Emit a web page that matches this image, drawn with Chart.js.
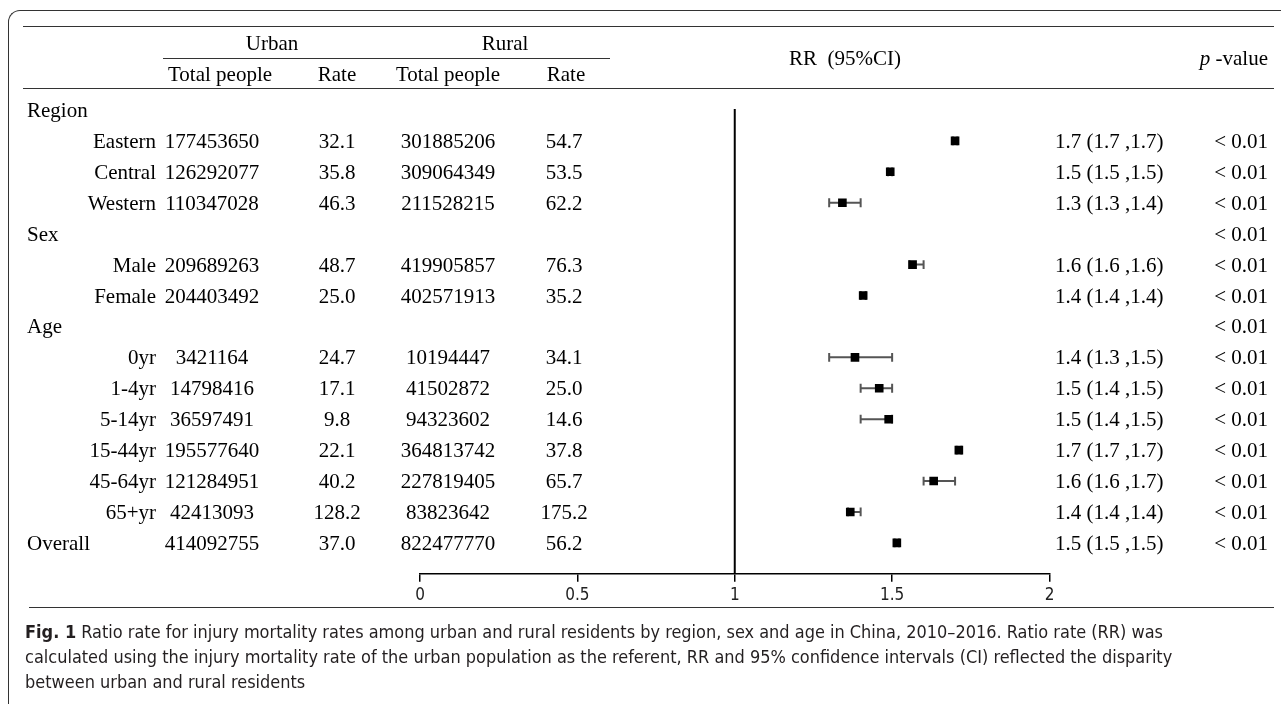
<!DOCTYPE html>
<html>
<head>
<meta charset="utf-8">
<script src="https://cdn.jsdelivr.net/npm/chart.js@4.4.0/dist/chart.umd.min.js"></script>
<style>
  html, body { margin:0; padding:0; background:#fff; }
  body { width:1281px; height:704px; overflow:hidden; position:relative; }
  #c { position:absolute; left:0; top:0; }
  .t { position:absolute; font-family:'Liberation Serif','Times New Roman',serif; font-size:21px; line-height:24px; color:#000; white-space:nowrap; }
  .rule { position:absolute; height:0; border-top:1.5px solid #333; }
  #frame { position:absolute; left:8px; top:10px; width:1400px; height:800px; border-top:1.5px solid #333; border-left:1.5px solid #333; border-top-left-radius:12px; }
  .cap { position:absolute; left:25px; font-family:'Liberation Sans Narrow','DejaVu Sans Condensed','Arial Narrow',sans-serif; font-size:17px; line-height:22px; color:#231f20; white-space:nowrap; transform-origin:0 50%; }
</style>
</head>
<body>
<div id="frame"></div>
<canvas id="c" width="1281" height="704"></canvas>
<div id="txt"></div>
<script>
// ---- data ----
const rowLabels = ['Region','Eastern','Central','Western','Sex','Male','Female','Age','0yr','1-4yr','5-14yr','15-44yr','45-64yr','65+yr','Overall'];
const isGroup   = [true,false,false,false,true,false,false,true,false,false,false,false,false,false,true];
const urbanTotal = ['','177453650','126292077','110347028','','209689263','204403492','','3421164','14798416','36597491','195577640','121284951','42413093','414092755'];
const urbanRate  = ['','32.1','35.8','46.3','','48.7','25.0','','24.7','17.1','9.8','22.1','40.2','128.2','37.0'];
const ruralTotal = ['','301885206','309064349','211528215','','419905857','402571913','','10194447','41502872','94323602','364813742','227819405','83823642','822477770'];
const ruralRate  = ['','54.7','53.5','62.2','','76.3','35.2','','34.1','25.0','14.6','37.8','65.7','175.2','56.2'];
const rrLabel = ['','1.7 (1.7 ,1.7)','1.5 (1.5 ,1.5)','1.3 (1.3 ,1.4)','','1.6 (1.6 ,1.6)','1.4 (1.4 ,1.4)','','1.4 (1.3 ,1.5)','1.5 (1.4 ,1.5)','1.5 (1.4 ,1.5)','1.7 (1.7 ,1.7)','1.6 (1.6 ,1.7)','1.4 (1.4 ,1.4)','1.5 (1.5 ,1.5)'];
const pValue  = ['','< 0.01','< 0.01','< 0.01','< 0.01','< 0.01','< 0.01','< 0.01','< 0.01','< 0.01','< 0.01','< 0.01','< 0.01','< 0.01','< 0.01'];
const rrValue = [null,1.700,1.494,1.342,null,1.565,1.408,null,1.382,1.459,1.489,1.712,1.632,1.367,1.515];
const ciLow   = [null,1.693,1.487,1.300,null,1.555,1.400,null,1.300,1.400,1.400,1.705,1.600,1.360,1.508];
const ciHigh  = [null,1.707,1.500,1.400,null,1.600,1.416,null,1.500,1.500,1.500,1.720,1.700,1.400,1.522];
const xTicks = [0, 0.5, 1, 1.5, 2];

// ---- build datasets ----
const pts = [], caps = [], segs = [];
rowLabels.forEach((_, i) => {
  if (rrValue[i] === null) return;
  pts.push({x: rrValue[i], y: i});
  caps.push({x: ciLow[i], y: i}, {x: ciHigh[i], y: i});
  segs.push({x: ciLow[i], y: i}, {x: ciHigh[i], y: i}, {x: NaN, y: NaN});
});
const refLine = [{x: 1, y: -0.03}, {x: 1, y: rowLabels.length}];

const chart = new Chart(document.getElementById('c'), {
  type: 'scatter',
  data: { datasets: [
    { data: pts, pointStyle: 'rect', pointRadius: 6.1, pointHoverRadius: 6.1, backgroundColor: '#000', borderColor: '#000', borderWidth: 0, order: 0 },
    { data: caps, pointStyle: 'line', rotation: 90, pointRadius: 4.4, pointHoverRadius: 4.4, borderColor: '#555', borderWidth: 2, order: 1 },
    { data: segs, showLine: true, spanGaps: false, pointRadius: 0, borderColor: '#555', borderWidth: 2, order: 2 },
    { data: refLine, showLine: true, pointRadius: 0, borderColor: '#000', borderWidth: 2, order: 3 }
  ]},
  options: {
    responsive: false, animation: false, devicePixelRatio: 1,
    layout: { padding: { left: 420, right: 231.5, top: 17.2, bottom: 90.2 } },
    plugins: { legend: { display: false }, tooltip: { enabled: false } },
    events: [],
    scales: {
      x: {
        type: 'linear', position: 'bottom', min: 0, max: 2,
        afterBuildTicks: s => { s.ticks = xTicks.map(v => ({value: v})); },
        afterFit: s => { s.height = 40; },
        ticks: { callback: v => String(v), color: '#222', padding: 4, maxRotation: 0,
                 font: { family: "'Liberation Sans Narrow','DejaVu Sans Condensed','Arial Narrow',sans-serif", size: 17 } },
        grid: { drawOnChartArea: false, drawTicks: true, tickLength: 8, color: '#000', lineWidth: 1.5 },
        border: { display: true, color: '#000', width: 1.5 }
      },
      y: { type: 'linear', min: -3, max: 15, reverse: true, display: false }
    }
  }
});

// ---- table text placed through the chart's y scale ----
const txt = document.getElementById('txt');
function put(text, y, opts) {
  const d = document.createElement('div');
  d.className = 't';
  d.innerHTML = text;
  d.style.top = (y - 12 + (opts.dy || 0)) + 'px';
  if (opts.align === 'center') { d.style.left = opts.x + 'px'; d.style.transform = 'translateX(-50%)'; }
  else if (opts.align === 'right') { d.style.right = (1281 - opts.x) + 'px'; }
  else { d.style.left = opts.x + 'px'; }
  txt.appendChild(d);
}
function rule(x1, x2, y) {
  const d = document.createElement('div');
  d.className = 'rule';
  d.style.left = x1 + 'px'; d.style.width = (x2 - x1) + 'px'; d.style.top = (y - 0.75) + 'px';
  txt.appendChild(d);
}
const ys = chart.scales.y;
rowLabels.forEach((lab, i) => {
  const y = ys.getPixelForValue(i);
  if (isGroup[i]) put(lab, y, {x: 27});
  else put(lab, y, {x: 156, align: 'right'});
  if (urbanTotal[i]) put(urbanTotal[i], y, {x: 212, align: 'center'});
  if (urbanRate[i])  put(urbanRate[i],  y, {x: 337, align: 'center'});
  if (ruralTotal[i]) put(ruralTotal[i], y, {x: 448, align: 'center'});
  if (ruralRate[i])  put(ruralRate[i],  y, {x: 564, align: 'center'});
  if (rrLabel[i])    put(rrLabel[i], y, {x: 1055});
  if (pValue[i])     put(pValue[i],  y, {x: 1268, align: 'right'});
});
// header
put('Urban', 43, {x: 272, align: 'center'});
put('Rural', 43, {x: 505, align: 'center'});
put('Total people', 74, {x: 220, align: 'center'});
put('Rate', 74, {x: 337, align: 'center'});
put('Total people', 74, {x: 448, align: 'center'});
put('Rate', 74, {x: 566, align: 'center'});
put('RR&nbsp;&nbsp;(95%CI)', 58, {x: 845, align: 'center'});
put('<i>p</i>&nbsp;-value', 58, {x: 1268, align: 'right'});
rule(23, 1274, 27);
rule(163, 610, 58.5);
rule(23, 1274, 89);
rule(29, 1274, 607.5);

// caption (one common horizontal scale, fitted to the first line)
const capLines = [
  ['<b>Fig. 1</b> Ratio rate for injury mortality rates among urban and rural residents by region, sex and age in China, 2010–2016. Ratio rate (RR) was', 632],
  ['calculated using the injury mortality rate of the urban population as the referent, RR and 95% confidence intervals (CI) reflected the disparity', 657],
  ['between urban and rural residents', 682]
];
let capScale = null;
capLines.forEach(([html, y]) => {
  const d = document.createElement('div');
  d.className = 'cap';
  d.innerHTML = html;
  d.style.top = (y - 11) + 'px';
  txt.appendChild(d);
  if (capScale === null) capScale = 1138 / d.getBoundingClientRect().width;
  d.style.transform = 'scaleX(' + capScale + ')';
});
</script>
</body>
</html>
